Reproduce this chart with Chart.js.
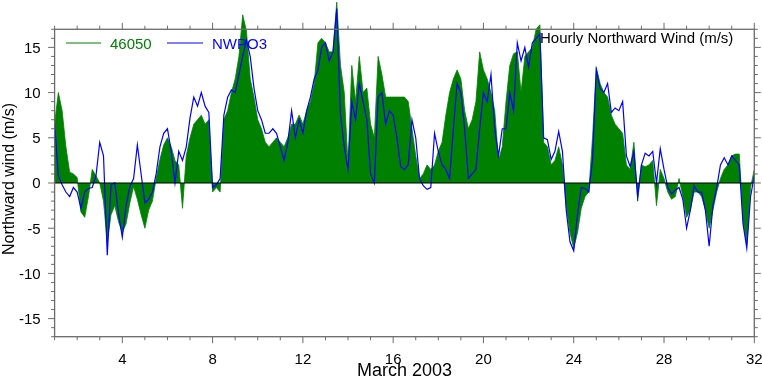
<!DOCTYPE html>
<html>
<head>
<meta charset="utf-8">
<title>Hourly Northward Wind (m/s)</title>
<script src="https://cdn.jsdelivr.net/npm/chart.js@4.4.1/dist/chart.umd.min.js"></script>
<style>
    html, body { margin: 0; padding: 0; background: #fff; }
    #wrap { width: 762px; height: 378px; }
</style>
</head>
<body>
<div id="wrap"><canvas id="wind-chart" width="762" height="378"></canvas></div>
<script>
// Northward wind, March 2003. Values every 4 hours from Mar 1 00:00.
const STEP_HOURS = 4;

const buoy46050 = [
    6.6, 10.0, 8.0, 4.0, 1.2, 1.0,
    0.6, -3.2, -3.8, -1.5, 1.5, 0.8,
    0.0, -2.0, -6.5, -3.5, -2.5, -4.3,
    -5.5, -4.5, -2.2, -0.4, -1.8, -3.5,
    -5.0, -3.0, -2.0, 0.5, 2.6, 4.2,
    5.0, 4.0, 2.5, 2.0, -2.8, 3.0,
    5.0, 6.5, 7.0, 7.5, 6.5, 7.0,
    -1.0, -0.5, -1.0, 7.0, 8.0, 10.0,
    11.5, 14.0, 18.6, 16.8, 11.5, 9.5,
    7.0, 6.0, 4.5, 4.0, 4.5, 5.0,
    4.5, 4.0, 5.0, 6.5, 6.5, 7.5,
    6.5, 8.0, 9.0, 11.0, 15.5, 16.0,
    15.5, 14.5, 14.5, 20.0, 13.0, 10.0,
    2.0, 13.0, 9.0, 14.0, 10.0, 10.5,
    6.5, 5.0, 14.0, 12.0, 9.5, 9.5,
    9.5, 9.5, 9.5, 9.5, 9.0, 6.0,
    3.0, 0.5, 1.0, 2.0, 1.5, 2.0,
    3.5, 4.5, 7.5, 10.0, 11.5, 12.5,
    11.5, 8.0, 6.0, 7.0, 9.0, 14.5,
    12.5, 11.5, 10.0, 8.0, 2.5, 4.0,
    9.0, 13.0, 14.3, 14.5, 10.0, 14.0,
    14.5, 15.0, 17.0, 17.5, 4.5, 4.0,
    2.0, 2.5, 4.0, 2.0, -2.5, -5.5,
    -7.2, -5.5, -2.8, -1.5, -1.0, 5.0,
    12.8, 11.0, 10.0, 9.5, 7.5, 6.5,
    6.0, 5.5, 2.0, 1.5, 4.5, -2.0,
    2.0, 1.8, 2.0, 2.5, -2.5, 1.5,
    0.5, -1.0, -1.8, -1.5, 0.5, -1.5,
    -3.8, -3.0, -1.0, -1.0, -1.5, -3.0,
    -5.0, -3.0, -1.0, 0.5, 1.5, 2.0,
    3.0, 3.2, 3.2, -4.0, -6.8, -0.5,
    1.5
];

const nwpo3 = [
    6.6, 0.8, -0.2, -1.0, -1.5, -0.5,
    -1.0, -2.8, -1.0, -0.6, -0.5, 0.8,
    4.5, 3.0, -8.0, -0.2, 0.0, -3.4,
    -6.0, -2.5, -0.4, 0.5, 4.2, 1.0,
    -2.2, -1.8, -1.0, 1.0, 4.0, 5.5,
    6.0, 3.5, 0.0, 3.5, 2.5, 4.0,
    7.2, 9.5, 8.5, 10.0, 8.5, 7.8,
    -0.5, -0.2, 0.5, 7.5, 9.5, 10.3,
    10.0, 12.0, 14.0, 15.8, 14.0, 10.5,
    8.0, 7.0, 5.5, 5.5, 6.0, 5.5,
    4.0, 2.5, 4.5, 8.0, 5.0, 7.0,
    5.5, 8.0, 9.5, 11.5, 12.5, 15.0,
    15.5, 13.5, 14.5, 19.3, 7.5, 4.0,
    1.5, 9.0, 7.0, 11.0, 9.0, 7.0,
    1.0, 0.0, 9.5, 10.0, 6.5, 8.0,
    7.5, 5.0, 1.8, 1.5, 2.0, 7.0,
    5.0, 0.5, -0.3, -0.7, -0.5, 5.5,
    3.5, 2.0, 1.5, 0.5, 6.0, 11.0,
    10.0, 6.0, 0.5, 1.0, 1.5, 6.0,
    10.0, 9.0, 12.0, 6.0, 3.0, 6.0,
    6.0, 10.0, 8.0, 15.5, 13.5, 15.0,
    12.8, 15.5, 16.0, 16.5, 5.0, 4.8,
    2.6, 3.5, 5.7, 3.5, -3.0, -6.5,
    -7.5, -3.5, -0.5, -0.6, -1.0, 2.5,
    12.5, 10.5, 10.0, 11.0, 7.8, 8.3,
    8.0, 9.0, 3.0, 1.8, 3.5, -1.5,
    2.0, 3.3, 3.0, 3.5, 0.0, 3.8,
    1.5, -0.5, -1.2, -0.8, -0.5, -1.8,
    -5.0, -3.0, -0.3, -1.0, -1.0, -3.0,
    -7.0, -2.5, -0.5, 2.0, 2.8, 2.0,
    3.0, 2.5, 2.0, -4.5, -7.2, -1.5,
    0.8
];

const xTickLabels = [4, 8, 12, 16, 20, 24, 28, 32];
const yTickLabels = [-15, -10, -5, 0, 5, 10, 15];

const X_MIN = 1;
const X_MAX = 32;
const Y_MIN = -17;
const Y_MAX = 17;
const Y_HEADROOM = 20.24; // the biggest peaks poke out above the frame

const FONT = "'Liberation Sans', Arial, Helvetica, sans-serif";
const FRAME_COLOR = '#6b6b6b';

function toPoints(values) {
    return values.map((v, i) => ({ x: X_MIN + (i * STEP_HOURS) / 24, y: v }));
}

function tick(ctx, x1, y1, x2, y2) {
    ctx.beginPath();
    ctx.moveTo(x1, y1);
    ctx.lineTo(x2, y2);
    ctx.stroke();
}

// NCL-style box: outward ticks on every side, zero line, legend and labels
const nclFrame = {
    id: 'nclFrame',
    afterDatasetsDraw(chart) {
        const { ctx, scales: { x, y } } = chart;
        const left = x.getPixelForValue(X_MIN);
        const right = x.getPixelForValue(X_MAX);
        const top = y.getPixelForValue(Y_MAX);
        const bottom = y.getPixelForValue(Y_MIN);
        const zero = y.getPixelForValue(0);

        ctx.save();

        ctx.strokeStyle = '#000';
        ctx.lineWidth = 1.2;
        tick(ctx, left, zero, right, zero);

        ctx.strokeStyle = FRAME_COLOR;
        ctx.lineWidth = 1.3;
        ctx.strokeRect(left, top, right - left, bottom - top);

        ctx.lineWidth = 1;
        for (let d = X_MIN; d <= X_MAX; d += 1) {
            const px = x.getPixelForValue(d);
            const len = xTickLabels.includes(d) ? 6.5 : 3.5;
            tick(ctx, px, bottom, px, bottom + len);
            tick(ctx, px, top, px, top - len);
        }
        for (let v = Y_MIN; v <= Y_MAX; v += 1) {
            const py = y.getPixelForValue(v);
            const len = yTickLabels.includes(v) ? 6.5 : 3.5;
            tick(ctx, left, py, left - len, py);
            tick(ctx, right, py, right + len, py);
        }

        ctx.fillStyle = '#000';
        ctx.font = `15px ${FONT}`;
        ctx.textAlign = 'center';
        ctx.textBaseline = 'alphabetic';
        xTickLabels.forEach(d => {
            ctx.fillText(String(d), x.getPixelForValue(d), 364);
        });

        ctx.textAlign = 'right';
        yTickLabels.forEach(v => {
            ctx.fillText(String(v), left - 14, y.getPixelForValue(v) + 5.5);
        });

        ctx.font = `18px ${FONT}`;
        ctx.textAlign = 'center';
        ctx.fillText('March 2003', (left + right) / 2, 376);

        ctx.save();
        ctx.translate(13.5, 179);
        ctx.rotate(-Math.PI / 2);
        ctx.font = `16px ${FONT}`;
        ctx.fillText('Northward wind (m/s)', 0, 0);
        ctx.restore();

        ctx.font = `15px ${FONT}`;
        ctx.textAlign = 'left';
        ctx.fillText('Hourly Northward Wind (m/s)', 540, 43);

        // legend
        ctx.lineWidth = 1.2;
        ctx.strokeStyle = '#008000';
        tick(ctx, 66, 43, 101, 43);
        ctx.fillStyle = '#008000';
        ctx.fillText('46050', 110, 49);
        ctx.strokeStyle = '#0000ff';
        tick(ctx, 167, 43, 203, 43);
        ctx.fillStyle = '#0000ff';
        ctx.fillText('NWPO3', 212, 49);

        ctx.restore();
    }
};

function drawWindChart() {
    const canvas = document.getElementById('wind-chart');
    new Chart(canvas.getContext('2d'), {
        type: 'line',
        data: {
            datasets: [
                {
                    label: 'NWPO3',
                    data: toPoints(nwpo3),
                    borderColor: '#0000ff',
                    borderWidth: 1.2,
                    pointRadius: 0,
                    fill: false,
                    tension: 0,
                    order: 0
                },
                {
                    label: '46050',
                    data: toPoints(buoy46050),
                    borderColor: '#008000',
                    backgroundColor: '#008000',
                    borderWidth: 0.8,
                    pointRadius: 0,
                    fill: 'origin',
                    tension: 0,
                    order: 1
                }
            ]
        },
        options: {
            responsive: false,
            animation: false,
            events: [],
            layout: { padding: { left: 54.6, right: 7.7, top: 0, bottom: 41.3 } },
            plugins: {
                legend: { display: false },
                tooltip: { enabled: false },
                title: { display: false }
            },
            scales: {
                x: { type: 'linear', min: X_MIN, max: X_MAX, display: false },
                y: { type: 'linear', min: Y_MIN, max: Y_HEADROOM, display: false }
            }
        },
        plugins: [nclFrame]
    });
}

drawWindChart();
</script>
</body>
</html>
